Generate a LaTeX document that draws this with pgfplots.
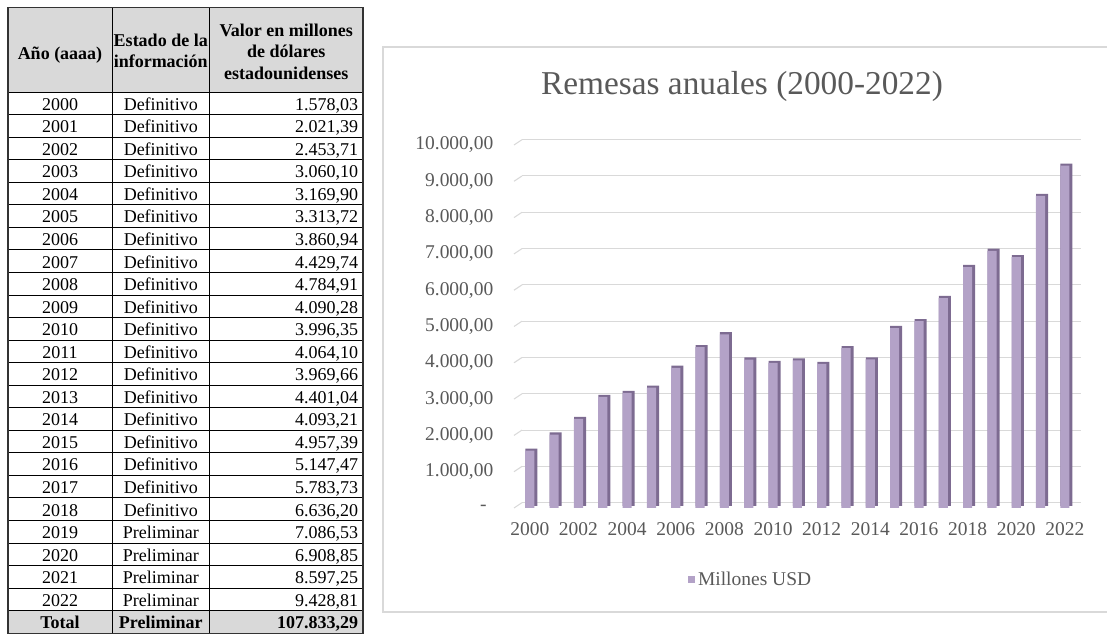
\documentclass[border=0pt]{standalone}
\usepackage{fontspec}
\setmainfont{Liberation Serif}
\usepackage{pgfplots}
\usepackage{pgfplotstable}
\pgfplotsset{compat=1.18}

\definecolor{barfront}{HTML}{B3A2C7}
\definecolor{barside}{HTML}{7D6B91}
\definecolor{txt}{HTML}{595959}
\definecolor{gridc}{HTML}{D9D9D9}
\definecolor{hdr}{HTML}{D9D9D9}

% remesas anuales, millones USD (2000 = 0)
\pgfplotstableread{
x val
0 1578.03
1 2021.39
2 2453.71
3 3060.10
4 3169.90
5 3313.72
6 3860.94
7 4429.74
8 4784.91
9 4090.28
10 3996.35
11 4064.10
12 3969.66
13 4401.04
14 4093.21
15 4957.39
16 5147.47
17 5783.73
18 6636.20
19 7086.53
20 6908.85
21 8597.25
22 9428.81
}\remesas

\newcommand{\tabfont}{\fontsize{13.5}{16}\selectfont}
\newcommand{\chartfont}{\fontsize{14.6}{17}\selectfont}

\begin{document}
\begin{tikzpicture}
\useasboundingbox (0,0) rectangle (830.25pt,476.25pt);

% pixel grid: 1px = 0.75pt, y downwards
\begin{scope}[shift={(0pt,476.25pt)}, x=0.75pt, y=-0.75pt]
  % chart frame
  \draw[gridc, line width=1.1pt] (383,47) rectangle (1130,612);
  \node[color=txt, font=\fontsize{25}{30}\selectfont] at (742,86) {Remesas anuales (2000-2022)};

  % table
  \fill[hdr] (8,7.5) rectangle (363,92);
  \fill[hdr] (8,610.65) rectangle (363,633.2);
  \foreach \k in {1,...,23} {
    \draw[line width=0.6pt] (8,92+\k*22.55) -- (363,92+\k*22.55);
  }
  \draw[line width=0.6pt] (8,92) -- (363,92);
  \draw[line width=0.6pt] (112,7.5) -- (112,633.2);
  \draw[line width=0.6pt] (209.5,7.5) -- (209.5,633.2);
  \draw[line width=1pt, color=black!80] (8,7.5) rectangle (363,633.2);

  \begin{scope}[font=\tabfont\bfseries]
    \node[anchor=base] at (60,60) {Año (aaaa)};
    \node[anchor=base] at (160.75,46.5) {Estado de la};
    \node[anchor=base] at (160.75,67.5) {información};
    \node[anchor=base] at (286.25,36.5) {Valor en millones};
    \node[anchor=base] at (286.25,58) {de dólares};
    \node[anchor=base] at (286.25,79.5) {estadounidenses};
  \end{scope}

  \foreach \yr/\st/\v [count=\i from 0] in {
    2000/Definitivo/{1.578,03}, 2001/Definitivo/{2.021,39}, 2002/Definitivo/{2.453,71},
    2003/Definitivo/{3.060,10}, 2004/Definitivo/{3.169,90}, 2005/Definitivo/{3.313,72},
    2006/Definitivo/{3.860,94}, 2007/Definitivo/{4.429,74}, 2008/Definitivo/{4.784,91},
    2009/Definitivo/{4.090,28}, 2010/Definitivo/{3.996,35}, 2011/Definitivo/{4.064,10},
    2012/Definitivo/{3.969,66}, 2013/Definitivo/{4.401,04}, 2014/Definitivo/{4.093,21},
    2015/Definitivo/{4.957,39}, 2016/Definitivo/{5.147,47}, 2017/Definitivo/{5.783,73},
    2018/Definitivo/{6.636,20}, 2019/Preliminar/{7.086,53}, 2020/Preliminar/{6.908,85},
    2021/Preliminar/{8.597,25}, 2022/Preliminar/{9.428,81}} {
    \pgfmathsetmacro\yb{92+\i*22.55+18.2}
    \node[anchor=base, font=\tabfont] at (60,\yb) {\yr};
    \node[anchor=base, font=\tabfont] at (160.75,\yb) {\st};
    \node[anchor=base east, inner sep=0pt, font=\tabfont] at (358.5,\yb) {\v};
  }
  \begin{scope}[font=\tabfont\bfseries]
    \node[anchor=base] at (60,628.5) {Total};
    \node[anchor=base] at (160.75,628.5) {Preliminar};
    \node[anchor=base east, inner sep=0pt] at (358.5,628.5) {107.833,29};
  \end{scope}
\end{scope}

\begin{axis}[
  at={(385.5pt,95.25pt)}, anchor=south west,
  scale only axis, width=419.55pt, height=272.25pt,
  xmin=-0.65, xmax=22.35, ymin=0, ymax=10000,
  clip=false, scaled y ticks=false,
  axis line style={draw=none}, tick style={draw=none},
  ytick={0,1000,2000,3000,4000,5000,6000,7000,8000,9000,10000},
  yticklabels={{-\hspace*{5pt}},{1.000,00},{2.000,00},{3.000,00},{4.000,00},{5.000,00},{6.000,00},{7.000,00},{8.000,00},{9.000,00},{10.000,00}},
  xtick={0,2,4,6,8,10,12,14,16,18,20,22},
  xticklabels={2000,2002,2004,2006,2008,2010,2012,2014,2016,2018,2020,2022},
  ymajorgrids,
  major grid style={gridc, line width=0.8pt, xshift=6pt, yshift=4pt},
  ticklabel style={color=txt, font=\chartfont},
  yticklabel style={xshift=-12pt},
  xticklabel style={yshift=-7.5pt},
  legend style={at={(0.4237,-0.198)}, anchor=center, draw=none, fill=none,
    font=\chartfont, text=txt},
  legend image code/.code={\fill[barfront] (0pt,-2.7pt) rectangle (5.4pt,2.7pt);},
]
\pgfplotsinvokeforeach{0,1000,2000,3000,4000,5000,6000,7000,8000,9000,10000}{
  \draw[gridc, line width=0.8pt] (axis cs:-0.65,#1) -- ++(6pt,4pt);
}
% side and top faces of the 3-D bars
\addplot[ybar, bar width=9pt, bar shift=1.2pt, fill=barside, draw=none,
  forget plot, yshift=1.6pt] table[x=x, y=val] {\remesas};
\addplot[ybar, bar width=6.9pt, bar shift=0pt, fill=barfront, draw=none]
  table[x=x, y=val] {\remesas};
\addlegendentry{Millones USD}
\end{axis}
\end{tikzpicture}
\end{document}
